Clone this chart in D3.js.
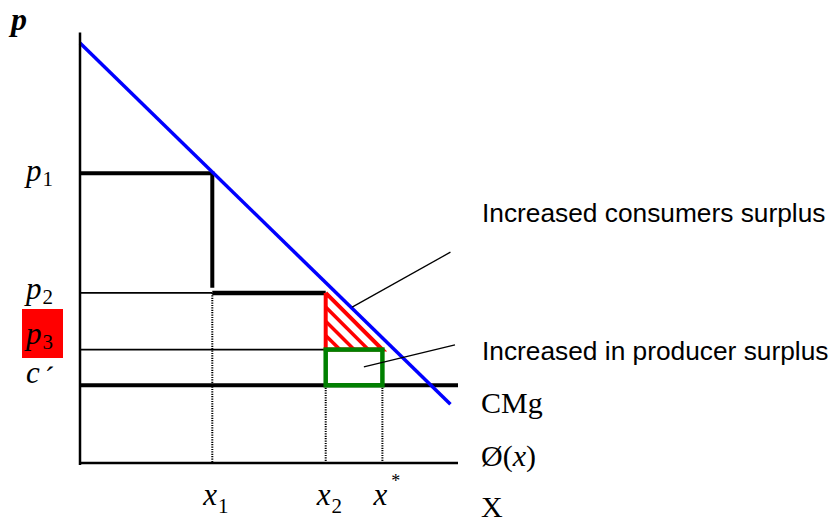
<!DOCTYPE html>
<html>
  <head>
    <meta charset="utf-8">
    <script src="https://d3js.org/d3.v7.min.js"></script>
    <style>
      body { margin: 0; background: #fff; }
      .serif { font-family: "Liberation Serif", "Times New Roman", serif; }
      .sans { font-family: "Liberation Sans", Arial, sans-serif; }
    </style>
  </head>
  <body>
    <svg width="835" height="522" id="chart"></svg>

  <script type="text/javascript">

    // price levels (p1, p2, p3, c') in chart units
    var priceNames = ["p1", "p2", "p3", "c"];
    var priceLevels = [69, 40.5, 27, 18.5];
    var priceLabels = [["p", "1"], ["p", "2"], ["p", "3"], ["c", "\u00b4"]];

    // quantities (x1, x2, x*)
    var qtyLevels = [35, 65, 80];
    var qtyLabels = [["x", "1"], ["x", "2"], ["x", "*"]];

    // demand curve end points [q, p]
    var demand = [[0, 100], [98, 14]];

    // leader lines for the annotations [from, to]
    var leaderLines = [
      [[72, 37.1], [98, 50.2]],
      [[75.1, 22.9], [99.2, 28.1]]
    ];
    var annotationTexts = ["Increased consumers surplus", "Increased in producer surplus"];

    // right-hand side labels
    var sideLabels = ["CMg", "\u00d8(x)", "X"];

    var svg = d3.select("#chart");

    var x = d3.scaleLinear().domain([0, 100]).range([80, 458]);
    var y = d3.scaleLinear().domain([0, 100]).range([463, 43]);

    var p1 = priceLevels[0], p2 = priceLevels[1], p3 = priceLevels[2], c = priceLevels[3];
    var x1 = qtyLevels[0], x2 = qtyLevels[1], xs = qtyLevels[2];

    var line = d3.line()
        .x(function(d) { return x(d[0]); })
        .y(function(d) { return y(d[1]); });

    function seg(pts, width, color, dash) {
      var p = svg.append("path")
        .attr("d", line(pts))
        .attr("fill", "none")
        .attr("stroke", color)
        .attr("stroke-width", width);
      if (dash) p.attr("stroke-dasharray", dash);
      return p;
    }

    // red box behind p3
    svg.append("rect")
      .attr("x", 22).attr("y", 309)
      .attr("width", 41).attr("height", 49)
      .attr("fill", "#ff0000");

    // thin price lines
    seg([[0, p2], [x1, p2]], 1.6, "#000");
    seg([[0, p3], [x2, p3]], 1.6, "#000");

    // dotted drop lines
    seg([[x1, p2], [x1, 0]], 2, "#000", "1.2,1.2");
    seg([[x2, c], [x2, 0]], 2, "#000", "1.2,1.2");
    seg([[xs, c], [xs, 0]], 2, "#000", "1.2,1.2");

    // thick step lines
    seg([[0, p1], [x1, p1], [x1, p2 + 1.2]], 4, "#000").attr("stroke-linejoin", "miter");
    seg([[x1, p2], [x2, p2]], 4.5, "#000");
    seg([[0, c], [100, c]], 4, "#000");

    // red hatched triangle (consumer surplus gain)
    var tri = [[x2, p2], [x2, p3], [xs, p3]];
    var hatchN = 4;
    for (var i = 1; i < hatchN; i++) {
      var t = i / hatchN;
      var pa = p2 - (p2 - p3) * t;
      var qb = x2 + (xs - x2) * (1 - t);
      seg([[x2, pa], [qb, p3]], 3.5, "#ff0000");
    }
    seg([tri[0], tri[1], tri[2], tri[0]], 4, "#ff0000").attr("stroke-linejoin", "miter");

    // green rectangle (producer surplus gain)
    svg.append("rect")
      .attr("x", x(x2)).attr("y", y(p3))
      .attr("width", x(xs) - x(x2)).attr("height", y(c) - y(p3))
      .attr("fill", "none")
      .attr("stroke", "#008000")
      .attr("stroke-width", 4.5);

    // demand curve
    seg(demand, 3.5, "#0000ff");

    // axes
    seg([[0, 102.5], [0, -0.5]], 2.5, "#000");
    seg([[0, 0], [100, 0]], 2.5, "#000");

    // leader lines
    leaderLines.forEach(function(l) { seg(l, 1.3, "#000"); });

    // annotation texts
    var annY = [222, 360];
    svg.selectAll(".ann").data(annotationTexts).enter().append("text")
      .attr("class", "sans")
      .attr("x", 482).attr("y", function(d, i) { return annY[i]; })
      .attr("font-size", 26.3)
      .text(function(d) { return d; });

    // y axis title
    svg.append("text").attr("class", "serif")
      .attr("x", 11).attr("y", 30)
      .attr("font-size", 32).attr("font-weight", "bold").attr("font-style", "italic")
      .text("p");

    // price labels
    var pBase = [181, 299, 344, 383];
    priceLabels.forEach(function(lab, i) {
      var t = svg.append("text").attr("class", "serif")
        .attr("x", 26).attr("y", pBase[i]).attr("font-size", 31);
      t.append("tspan").attr("font-style", "italic").text(lab[0]);
      if (i < 3) {
        t.append("tspan").attr("font-size", 21).attr("dy", 5).attr("dx", 1).text(lab[1]);
      } else {
        t.append("tspan").attr("font-size", 30).attr("dy", 4).attr("dx", 5).text(lab[1]);
      }
    });

    // quantity labels
    qtyLabels.forEach(function(lab, i) {
      var t = svg.append("text").attr("class", "serif")
        .attr("x", x(qtyLevels[i]) - 9).attr("y", 505).attr("font-size", 31);
      t.append("tspan").attr("font-style", "italic").text(lab[0]);
      if (i < 2) {
        t.append("tspan").attr("font-size", 21).attr("dy", 8).attr("dx", 1).text(lab[1]);
      } else {
        t.append("tspan").attr("font-size", 18).attr("dy", -18).attr("dx", 4).text(lab[1]);
      }
    });

    // right-hand labels
    var sideY = [413, 466, 517];
    sideLabels.forEach(function(s, i) {
      var t = svg.append("text").attr("class", "serif")
        .attr("x", 481).attr("y", sideY[i]).attr("font-size", 30);
      if (s.indexOf("(x)") > 0) {
        t.append("tspan").text(s.slice(0, 2));
        t.append("tspan").attr("font-style", "italic").text("x");
        t.append("tspan").text(")");
      } else {
        t.text(s);
      }
    });

  </script>
  </body>
</html>
